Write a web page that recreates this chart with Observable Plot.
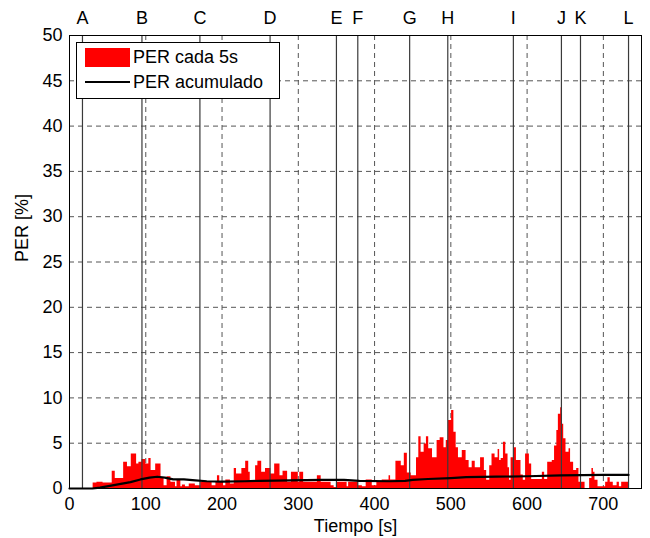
<!DOCTYPE html>
<html>
<head>
<meta charset="utf-8">
<script src="https://cdn.jsdelivr.net/npm/d3@7"></script>
<script src="https://cdn.jsdelivr.net/npm/@observablehq/plot@0.6"></script>
<style>
  html, body { margin: 0; padding: 0; background: #fff; }
  #chart { position: relative; width: 650px; height: 538px; font-family: "Liberation Sans", Arial, Helvetica, sans-serif; }
  #legend { position: absolute; left: 76px; top: 42px; width: 202px; height: 55px; border: 1px solid #000; background: #fff; }
  #legend .sw { position: absolute; left: 8px; top: 5px; width: 45px; height: 19px; background: #ff0000; }
  #legend .ln { position: absolute; left: 8px; top: 38px; width: 45px; height: 0; border-top: 2px solid #000; }
  #legend .t { position: absolute; left: 56px; font-size: 18px; line-height: 20px; color: #000; white-space: nowrap; }
</style>
</head>
<body>
<div id="chart"></div>
<script>
// PER cada 5s: bars start times (s) and values (%), last start = end time
const segStart = [0,31,36,44,53,56,60,71,76,81,88,91,95,100,104,107,113,120,124,128,133,139,141,146,148,152,157,165,172,187,192,194,197,202,205,211,216,219,226,231,235,237,244,247,252,257,264,269,276,280,286,291,300,302,307,325,330,343,347,351,364,366,379,384,389,397,403,410,419,421,428,435,439,443,448,455,458,461,465,468,471,476,482,486,491,494,497,501,504,507,510,515,520,524,528,532,539,544,547,551,554,558,562,564,566,569,572,575,577,579,583,586,592,595,598,603,606,620,623,627,633,636,639,641,644,646,648,651,655,657,661,665,668,676,682,685,687,689,693,703,706,709,713,718,721,724,733];
const perValues = [0,0.6,0.7,0.6,0.6,1.9,1.1,2.9,2.4,3.8,2.7,2.9,3.2,2.7,3.3,2.0,2.7,1.2,0.3,1.3,0.7,0.2,1.0,0.2,0.4,0.2,0.5,0.3,0.7,0.3,0.7,1.4,0.7,0.3,0.95,0.5,2.2,1.6,2.2,3.0,1.8,0.7,2.5,3.0,1.8,2.2,1.6,2.7,1.4,1.9,0.7,1.8,0.7,1.8,0.7,1.4,0.7,0.3,0.1,0.7,0.2,0.7,0.3,0.2,0.95,0.3,0.7,0.95,1.4,0.95,3.0,2.5,3.9,1.7,1.4,3.4,5.7,4.0,4.9,5.7,4.4,3.4,5.3,5.6,4.5,5.3,7.5,8.6,6.2,4.5,3.4,4.2,3.1,2.3,3.0,2.3,3.4,2.0,0.9,2.5,3.8,3.4,4.3,3.1,3.3,5.1,3.8,2.3,0.9,3.4,4.5,3.1,1.5,0.9,3.8,2.7,1.0,1.8,1.0,2.9,3.1,4.7,6.4,8.2,8.9,7.1,5.5,4.0,4.4,2.9,2.0,2.2,0.7,0,1.1,2.2,1.8,0.9,0.2,0.7,1.2,0.7,0.3,0.7,0.2,0.7];

// PER acumulado
const cumTime  = [0,30,40,60,80,93,105,115,125,136,150,165,180,200,230,250,290,330,360,380,420,440,450,470,500,520,560,600,645,700,733];
const cumValue = [0,0,0.1,0.4,0.7,1.0,1.2,1.3,1.2,1.0,1.0,0.9,0.8,0.75,0.8,0.85,0.9,0.95,0.95,0.85,0.8,0.85,0.95,1.05,1.15,1.25,1.3,1.35,1.45,1.5,1.5];

// Event markers
const eventLabels = ["A","B","C","D","E","F","G","H","I","J","K","L"];
const eventTimes  = [17,95,171,263,350,378,446,496,582,645,670,733];

const xTicks = [0,100,200,300,400,500,600,700];
const yTicks = [0,5,10,15,20,25,30,35,40,45,50];

const n = Math.min(perValues.length, segStart.length - 1);
const steps = [];
for (let i = 0; i < n; i++) steps.push({t: segStart[i], v: perValues[i]});
steps.push({t: segStart[n], v: perValues[n - 1]});
const cum = cumTime.map((t, i) => ({t, v: cumValue[i]}));
const events = eventTimes.map((t, i) => ({t, label: eventLabels[i]}));

const plot = Plot.plot({
  width: 650,
  height: 538,
  marginLeft: 69,
  marginRight: 9,
  marginTop: 35,
  marginBottom: 50,
  style: {fontSize: "18px", fontFamily: "'Liberation Sans', Arial, Helvetica, sans-serif", color: "#000", background: "#fff"},
  x: {domain: [0, 750], ticks: xTicks, tickSize: 0, tickPadding: 9, label: null},
  y: {domain: [0, 50], ticks: yTicks, tickSize: 0, tickPadding: 7, label: null},
  marks: [
    Plot.ruleX(xTicks.slice(1), {stroke: "#555", strokeDasharray: "5,4", strokeWidth: 1}),
    Plot.ruleY(yTicks.slice(1, -1), {stroke: "#555", strokeDasharray: "5,4", strokeWidth: 1}),
    Plot.areaY(steps, {x: "t", y: "v", curve: "step-after", fill: "#ff0000"}),
    Plot.ruleX(events, {x: "t", stroke: "#3a3a3a", strokeWidth: 1.2}),
    Plot.line(cum, {x: "t", y: "v", stroke: "#000", strokeWidth: 2.2}),
    Plot.text(events, {x: "t", y: 50, text: "label", dy: -17, fontSize: 18, fill: "#000"}),
    Plot.text(["Tiempo [s]"], {frameAnchor: "bottom", dy: 43, fontSize: 18, fill: "#000"}),
    Plot.text(["PER [%]"], {frameAnchor: "left", dx: -47, rotate: -90, fontSize: 18, fill: "#000"}),
    Plot.frame({stroke: "#000", strokeWidth: 1})
  ]
});

const chart = document.getElementById("chart");
chart.appendChild(plot);
const legend = document.createElement("div");
legend.id = "legend";
legend.innerHTML = '<div class="sw"></div><div class="t" style="top:4px">PER cada 5s</div><div class="ln"></div><div class="t" style="top:29px">PER acumulado</div>';
chart.appendChild(legend);
</script>
</body>
</html>
